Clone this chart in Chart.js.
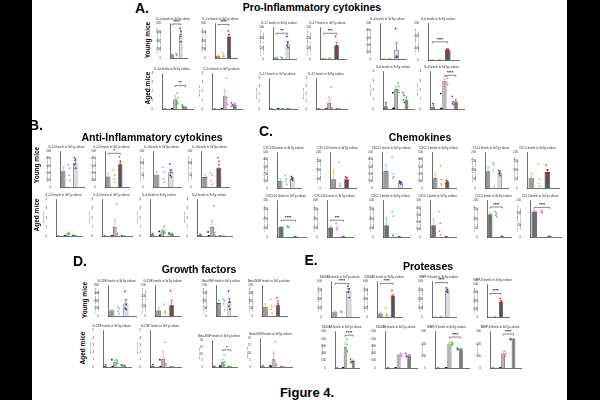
<!DOCTYPE html>
<html>
<head>
<meta charset="utf-8">
<script src="https://cdn.jsdelivr.net/npm/chart.js@4.4.1/dist/chart.umd.min.js"></script>
<style>
  body { margin: 0; width: 600px; height: 400px; background: #fff; position: relative; overflow: hidden;
         font-family: "Liberation Sans", Arial, sans-serif; }
  canvas.c { position: absolute; }
  .lbl { position: absolute; font-weight: bold; color: #000; white-space: nowrap; transform: translate(-50%, -50%); line-height: 1; }
  .rot { transform: translate(-50%, -50%) rotate(-90deg); }
  .side { position: absolute; top: 0; height: 400px; background: #000; z-index: 5; }
</style>
</head>
<body>
<div class="side" style="left:0;width:32px"></div>
<div class="side" style="left:567px;width:33px"></div>
<script>
// ===== data =====
const catsYoungMale = ['WT male', '3xTg male'];
const catsYoungFemale = ['WT female', '3xTg female'];
const catsAgedMale = ['Control', 'WT male', '3xTg male'];
const catsAgedFemale = ['Control', 'WT female', '3xTg female'];
const yLabelYoung = ['% cytokine levels relative', 'to WT control (pg/mL)'];
const yLabelAged = 'MFI values';

// A. Pro-inflammatory cytokines (young row, then aged row)
const titlesA = ['IL-1α levels in 3xTg culture', 'IL-1α levels in 3xTg culture', 'IL-17 levels in 3xTg culture',
  'IL-17 levels in 3xTg culture', 'IL-6 levels in 3xTg culture', 'IL-6 levels in 3xTg culture',
  'IL-1α levels in 3xTg culture', 'IL-1α levels in 3xTg culture', 'IL-17 levels in 3xTg culture',
  'IL-17 levels in 3xTg culture', 'IL-6 levels in 3xTg culture', 'IL-6 levels in 3xTg culture'];
const kindsA = ['ym', 'yf', 'ym', 'yf', 'ym', 'yf', 'am', 'af', 'am', 'af', 'am', 'af'];
const meansA = [[80, 550], [55, 500], [70, 690], [40, 660], [100, 6500], [20, 850],
  [0.02, 1.1, 0.2], [0.02, 1.5, 0.5], [0.02, 0.03, 0.02], [0.02, 0.8, 0.02], [0.3, 2.1, 1.0], [0.25, 3.0, 0.8]];
const errsA = [[20, 60], [20, 50], [20, 150], [10, 130], [50, 5000], [10, 60],
  [0.01, 0.4, 0.05], [0.01, 0.65, 0.15], [0.01, 0.01, 0.01], [0.01, 0.8, 0.01], [0.4, 0.3, 0.3], [0.35, 0.2, 0.25]];
const pointsA = [
  [[110, 60, 70, 90], [690, 630, 500, 380]],
  [[120, 70, 40, 30], [630, 545, 460, 420]],
  [[90, 50, 80, 60], [1080, 780, 640, 540]],
  [[50, 30, 40], [1080, 640, 520, 400]],
  [[150, 80, 100], [21500, 2000, 1200, 1500]],
  [[30, 15, 20], [900, 850, 800, 860]],
  [[0.03, 0.01, 0.02], [1.8, 1.3, 0.8, 0.6], [0.45, 0.3, 0.15, 0.1]],
  [[0.03, 0.01], [3.5, 1.3, 0.7, 0.5], [0.7, 0.5, 0.3]],
  [[0.02, 0.01], [0.05, 0.02, 0.03], [0.02, 0.03, 0.01]],
  [[0.02, 0.01], [2.9, 0.2, 0.1, 0.1], [0.02, 0.01]],
  [[1.75, 0.1, 0.05, 0.05, 0.02], [2.8, 2.4, 2.0, 1.75], [1.75, 1.45, 1.0, 0.7]],
  [[1.65, 0.05, 0.05, 0.02, 0.02], [3.5, 3.3, 2.8, 2.6], [1.35, 0.8, 0.6, 0.5]]
];
const ymaxA = [800, 800, 1500, 1500, 25000, 3000, 4, 4, 4, 4, 4, 4];
const stepA = [200, 200, 500, 500, 5000, 500, 1, 1, 1, 1, 1, 1];
const sigA = [[0, 1, '****', 790], [0, 1, '****', 780], [0, 1, '**', 1230], [0, 1, '***', 1230], null,
  [0, 1, '****', 1500], [1, 2, '**', 2.65], null, null, null, null, [1, 2, '****', 3.6]];

// B. Anti-inflammatory cytokines
const titlesB = ['IL-10 levels in 3xTg culture', 'IL-10 levels in 3xTg culture', 'IL-4 levels in 3xTg culture',
  'IL-4 levels in 3xTg culture', 'IL-10 levels in 3xTg culture', 'IL-10 levels in 3xTg culture',
  'IL-4 levels in 3xTg culture', 'IL-4 levels in 3xTg culture'];
const kindsB = ['ym', 'yf', 'ym', 'yf', 'am', 'af', 'am', 'af'];
const meansB = [[1120, 1700], [750, 1600], [52, 62], [42, 82],
  [0.02, 0.25, 0.05], [0.02, 1.0, 0.01], [0.2, 0.6, 0.25], [0.12, 1.0, 0.01]];
const errsB = [[300, 180], [200, 150], [14, 10], [10, 15],
  [0.01, 0.05, 0.02], [0.01, 0.8, 0.01], [0.1, 0.15, 0.05], [0.1, 0.75, 0.01]];
const pointsB = [
  [[1580, 1330, 830, 450], [2080, 1950, 1580, 1330]],
  [[1200, 830, 580, 330], [2120, 1830, 1450, 1200]],
  [[83, 64, 35, 20], [98, 72, 50, 42]],
  [[60, 50, 27, 12], [125, 110, 72, 42]],
  [[0.01, 0.02], [0.4, 0.3, 0.25, 0.2], [0.06, 0.04, 0.05]],
  [[0.02, 0.01], [3.5, 0.3, 0.2, 0.1], [0.01, 0.02]],
  [[0.5, 0.1, 0.05], [1.05, 0.6, 0.4, 0.3], [0.35, 0.3, 0.2]],
  [[0.45, 0.02, 0.02], [3.3, 0.4, 0.2, 0.1], [0.01, 0.02]]
];
const ymaxB = [2500, 2500, 150, 150, 4, 4, 4, 4];
const stepB = [500, 500, 50, 50, 1, 1, 1, 1];
const sigB = [null, [0, 1, '*', 2380], null, null, null, null, null, null];

// C. Chemokines
const titlesC = ['CXCL10 levels in 3xTg culture', 'CXCL10 levels in 3xTg culture', 'CXCL1 levels in 3xTg culture',
  'CXCL1 levels in 3xTg culture', 'CCL2 levels in 3xTg culture', 'CCL2 levels in 3xTg culture',
  'CXCL10 levels in 3xTg culture', 'CXCL10 levels in 3xTg culture', 'CXCL1 levels in 3xTg culture',
  'CXCL1 levels in 3xTg culture', 'CCL2 levels in 3xTg culture', 'CCL2 levels in 3xTg culture'];
const kindsC = ['ym', 'yf', 'ym', 'yf', 'ym', 'yf', 'am2', 'af2', 'am2', 'af2', 'am2', 'af2'];
const meansC = [[100, 135], [100, 100], [1180, 380], [680, 430], [95, 85], [55, 90],
  [110, 2], [105, 2], [650, 10], [810, 20], [125, 3], [105, 2]];
const errsC = [[30, 15], [95, 20], [450, 70], [330, 60], [25, 10], [30, 15],
  [5, 1], [15, 1], [400, 5], [400, 5], [8, 1], [5, 1]];
const pointsC = [
  [[175, 125, 85, 50], [165, 140, 125, 110]],
  [[290, 50, 30, 20], [125, 115, 90, 60]],
  [[2180, 1000, 700, 800], [480, 420, 350, 280]],
  [[1580, 600, 300, 200], [550, 480, 400, 300]],
  [[140, 130, 100, 10], [100, 90, 80, 70]],
  [[135, 50, 25, 10], [130, 100, 80, 60]],
  [[120, 115, 110, 105], [2, 1, 3]],
  [[150, 110, 90, 80], [2, 1, 2]],
  [[1400, 1150, 100, 50], [10, 5, 15]],
  [[1750, 950, 400, 150], [20, 10, 30]],
  [[140, 130, 120, 110], [3, 2, 4]],
  [[110, 108, 100, 102], [2, 1, 3]]
];
const ymaxC = [500, 400, 2500, 2500, 200, 200, 400, 400, 2000, 2500, 200, 150];
const stepC = [100, 100, 500, 500, 50, 50, 100, 100, 500, 500, 50, 50];
const sigC = [null, null, null, null, null, null, [0, 1, '****', 185], [0, 1, '***', 185], null, null,
  [0, 1, '****', 165], [0, 1, '****', 122]];

// D. Growth factors
const titlesD = ['G-CSF levels in 3xTg culture', 'G-CSF levels in 3xTg culture', 'Beta-NGF levels in 3xTg culture',
  'Beta-NGF levels in 3xTg culture', 'G-CSF levels in 3xTg culture', 'G-CSF levels in 3xTg culture',
  'Beta-NGF levels in 3xTg culture', 'Beta-NGF levels in 3xTg culture'];
const kindsD = ['ym', 'yf', 'ym', 'yf', 'am', 'af', 'am', 'af'];
const meansD = [[145, 330], [110, 210], [85, 90], [60, 70],
  [0.15, 0.7, 0.25], [0.15, 1.1, 0.02], [0.5, 4, 0.2], [0.6, 5.5, 0.1]];
const errsD = [[30, 100], [50, 100], [20, 25], [20, 30],
  [0.2, 0.2, 0.05], [0.2, 1.0, 0.01], [0.2, 2, 0.1], [0.3, 5, 0.05]];
const pointsD = [
  [[250, 200, 120, 60], [650, 300, 200, 170]],
  [[230, 100, 70, 40], [500, 150, 100, 80]],
  [[110, 100, 80, 40], [165, 95, 65, 45]],
  [[110, 65, 45, 20], [120, 80, 50, 30]],
  [[1.0, 0.05, 0.02], [1.0, 0.8, 0.5, 0.5], [0.3, 0.25, 0.2]],
  [[1.0, 0.05, 0.02], [3.4, 0.5, 0.3, 0.2], [0.02, 0.01]],
  [[0.8, 0.3, 0.4], [9, 4, 2, 1], [0.3, 0.2, 0.1]],
  [[0.9, 0.4, 0.5], [18, 2, 1, 1], [0.1, 0.1]]
];
const ymaxD = [800, 600, 200, 200, 5, 5, 20, 20];
const stepD = [200, 200, 50, 50, 1, 1, 5, 5];
const sigD = [null, null, null, null, null, null, [1, 2, '*', 13], null];

// E. Proteases
const titlesE = ['S100A8 levels in 3xTg culture', 'S100A8 levels in 3xTg culture', 'MMP-9 levels in 3xTg culture',
  'MMP-9 levels in 3xTg culture', 'S100A8 levels in 3xTg culture', 'S100A8 levels in 3xTg culture',
  'MMP-9 levels in 3xTg culture', 'MMP-9 levels in 3xTg culture'];
const kindsE = ['ym', 'yf', 'ym', 'yf', 'am', 'af', 'am', 'af'];
const meansE = [[1500, 7300], [1000, 6100], [300, 30000], [200, 19000],
  [50, 5800, 1900], [60, 3500, 3400], [300, 40000, 31000], [300, 24000, 47500]];
const errsE = [[200, 700], [400, 300], [50, 1500], [50, 1500],
  [20, 1200, 300], [20, 300, 300], [100, 1500, 1200], [100, 3000, 1000]];
const pointsE = [
  [[1700, 1500, 1300], [8700, 8000, 7000, 5500]],
  [[2500, 800, 400, 300], [7500, 5800, 5600, 5500]],
  [[350, 300, 250], [33000, 31000, 29000, 28000]],
  [[250, 200, 150], [23000, 20000, 17000, 18000]],
  [[60, 40, 50], [8000, 6500, 4800, 4500], [2400, 1800, 1500]],
  [[70, 50], [4000, 3700, 3400, 3300], [4000, 3400, 3100]],
  [[350, 250], [42500, 41000, 39000, 38000], [33000, 31000, 30000]],
  [[350, 250], [28000, 24000, 20000], [48500, 47500, 46500]]
];
const ymaxE = [10000, 10000, 40000, 40000, 10000, 10000, 60000, 60000];
const stepE = [2500, 2500, 10000, 10000, 2000, 2000, 20000, 20000];
const sigE = [[0, 1, '****', 9500], [0, 1, '****', 9500], [0, 1, '****', 39000], [0, 1, '****', 29000],
  [1, 2, '****', 9000], null, [1, 2, '****', 51000], [1, 2, '****', 56000]];

// ===== layout: canvas boxes [left, top, width, height] =====
const boxesA = [[156, 16, 35, 48], [201, 16, 40, 48], [259, 20, 41, 45], [306, 20, 44, 45], [366, 16, 44, 49], [414, 16, 49, 50],
  [148, 66, 49, 49], [198, 66, 48, 49], [255, 71, 46, 44], [302, 71, 49, 44], [369, 64, 49, 51], [416, 64, 52, 51]];
const boxesB = [[46, 144, 42, 49], [91, 144, 42, 49], [139, 144, 46, 49], [187, 144, 46, 49],
  [42, 192, 44, 50], [88, 192, 48, 50], [136, 192, 47, 50], [183, 192, 53, 50]];
const boxesC = [[263, 145, 42, 49], [316, 145, 44, 49], [368, 145, 47, 49], [418, 145, 42, 49], [471, 145, 41, 49], [513, 145, 50, 49],
  [263, 193, 47, 50], [313, 193, 44, 50], [369, 193, 44, 50], [416, 193, 44, 50], [473, 193, 42, 50], [516, 193, 49, 50]];
const boxesD = [[94, 278, 46, 44], [141, 278, 44, 44], [202, 278, 39, 44], [248, 278, 43, 44],
  [89, 323, 46, 50], [136, 323, 49, 50], [198, 333, 43, 40], [246, 331, 50, 42]];
const boxesE = [[317, 274, 46, 49], [363, 274, 43, 49], [418, 274, 42, 49], [473, 277, 40, 46],
  [321, 324, 42, 50], [371, 324, 50, 50], [421, 324, 52, 50], [476, 324, 49, 50]];

// ===== styles =====
const FONT = '"Liberation Sans", Arial, sans-serif';
Chart.defaults.font.family = FONT;
const JITTER = [-0.1, 0.08, -0.03, 0.11, -0.12, 0.04];
const KINDS = {
  ym: { cats: catsYoungMale, ylab: yLabelYoung, bars: ['#9b9b9b', '#dcdcdc'], pts: ['#6aaef0', '#2a35c8'] },
  yf: { cats: catsYoungFemale, ylab: yLabelYoung, bars: ['#9b9b9b', '#555555'], pts: ['#f39a3c', '#e31b1b'] },
  am: { cats: catsAgedMale, ylab: yLabelAged, bars: ['#7a7a7a', '#b4b4b4', '#7d7d7d'], pts: ['#111111', '#3fd13f', '#1b8f1b'] },
  af: { cats: catsAgedFemale, ylab: yLabelAged, bars: ['#7a7a7a', '#b4b4b4', '#7d7d7d'], pts: ['#111111', '#f36ad6', '#8b2bd9'] },
  am2: { cats: catsYoungMale, ylab: yLabelYoung, bars: ['#6e6e6e', '#d2d2d2'], pts: ['#3fd13f', '#1b8f1b'] },
  af2: { cats: catsYoungFemale, ylab: yLabelYoung, bars: ['#6e6e6e', '#d2d2d2'], pts: ['#f36ad6', '#8b2bd9'] }
};

// one small bar + dot plot
function makeChart(box, title, kind, mean, err, pts, ymax, step, sig) {
  const st = KINDS[kind];
  const cv = document.createElement('canvas');
  cv.className = 'c';
  cv.width = box[2];
  cv.height = box[3];
  cv.style.left = box[0] + 'px';
  cv.style.top = box[1] + 'px';
  cv.style.width = box[2] + 'px';
  cv.style.height = box[3] + 'px';
  document.body.appendChild(cv);

  const datasets = [{
    type: 'bar',
    data: mean,
    backgroundColor: st.bars,
    borderColor: '#111',
    borderWidth: 0.6,
    barPercentage: 0.78,
    categoryPercentage: 0.9,
    order: 2
  }];
  st.cats.forEach((c, i) => {
    datasets.push({
      type: 'scatter',
      xAxisID: 'xj',
      data: pts[i].map((v, k) => ({ x: i + JITTER[k % JITTER.length], y: v })),
      pointRadius: 0.85,
      pointBackgroundColor: st.pts[i],
      pointBorderWidth: 0,
      order: 0
    });
  });

  // error bars right after the bars, bracket at the end
  const marks = {
    id: 'marks',
    afterDatasetDraw(chart, args) {
      if (args.index !== 0) return;
      const { ctx } = chart;
      const y = chart.scales.y;
      args.meta.data.forEach((bar, i) => {
        const top = y.getPixelForValue(mean[i] + err[i]);
        const half = bar.width * 0.3;
        ctx.save();
        ctx.strokeStyle = st.pts[i];
        ctx.lineWidth = 0.6;
        ctx.beginPath();
        ctx.moveTo(bar.x, bar.y);
        ctx.lineTo(bar.x, top);
        ctx.moveTo(bar.x - half, top);
        ctx.lineTo(bar.x + half, top);
        ctx.stroke();
        ctx.restore();
      });
    },
    afterDraw(chart) {
      if (!sig) return;
      const { ctx } = chart;
      const bars = chart.getDatasetMeta(0).data;
      const x1 = bars[sig[0]].x, x2 = bars[sig[1]].x;
      const yy = chart.scales.y.getPixelForValue(sig[3]);
      ctx.save();
      ctx.strokeStyle = '#111';
      ctx.lineWidth = 0.5;
      ctx.beginPath();
      ctx.moveTo(x1, yy + 1.5);
      ctx.lineTo(x1, yy);
      ctx.lineTo(x2, yy);
      ctx.lineTo(x2, yy + 1.5);
      ctx.stroke();
      ctx.fillStyle = '#111';
      ctx.font = 'bold 4px ' + FONT;
      ctx.textAlign = 'center';
      ctx.textBaseline = 'bottom';
      ctx.fillText(sig[2], (x1 + x2) / 2, yy - 0.3);
      ctx.restore();
    }
  };

  return new Chart(cv, {
    type: 'bar',
    data: { labels: st.cats, datasets },
    options: {
      responsive: false,
      animation: false,
      events: [],
      layout: { padding: { left: 0, right: 1, top: 0, bottom: 0 } },
      plugins: {
        legend: { display: false },
        tooltip: { enabled: false },
        title: { display: true, text: title, color: '#222', font: { size: 3, weight: 'normal' }, padding: { top: 1.5, bottom: 2.5 } }
      },
      scales: {
        x: {
          grid: { display: false },
          border: { color: '#111', width: 0.6 },
          ticks: { color: '#333', font: { size: 2.5 }, maxRotation: 0, autoSkip: false, padding: 1 },
          afterFit(s) { s.height = 6; }
        },
        xj: { type: 'linear', display: false, position: 'bottom', min: -0.5, max: st.cats.length - 0.5 },
        y: {
          min: 0,
          max: ymax,
          grid: { display: false },
          border: { color: '#111', width: 0.6 },
          ticks: { stepSize: step, color: '#333', font: { size: 2.8 }, padding: 1 },
          title: { display: true, text: st.ylab, color: '#333', font: { size: 2.3 }, padding: 0 },
          afterFit(s) { s.width = 14; }
        }
      }
    },
    plugins: [marks]
  });
}

function drawPanel(boxes, titles, kinds, means, errs, points, ymax, step, sig) {
  boxes.forEach((b, i) => makeChart(b, titles[i], kinds[i], means[i], errs[i], points[i], ymax[i], step[i], sig[i]));
}

function label(text, x, y, size, rotate) {
  const d = document.createElement('div');
  d.className = 'lbl' + (rotate ? ' rot' : '');
  d.textContent = text;
  d.style.left = x + 'px';
  d.style.top = y + 'px';
  d.style.fontSize = size + 'px';
  document.body.appendChild(d);
}

drawPanel(boxesA, titlesA, kindsA, meansA, errsA, pointsA, ymaxA, stepA, sigA);
drawPanel(boxesB, titlesB, kindsB, meansB, errsB, pointsB, ymaxB, stepB, sigB);
drawPanel(boxesC, titlesC, kindsC, meansC, errsC, pointsC, ymaxC, stepC, sigC);
drawPanel(boxesD, titlesD, kindsD, meansD, errsD, pointsD, ymaxD, stepD, sigD);
drawPanel(boxesE, titlesE, kindsE, meansE, errsE, pointsE, ymaxE, stepE, sigE);

// panel letters, headings, row labels
label('A.', 142, 8, 14);
label('Pro-Inflammatory cytokines', 312, 7, 10.5);
label('Young mice', 148, 40, 6.5, true);
label('Aged mice', 148, 88, 6.5, true);
label('B.', 36, 125, 14);
label('Anti-Inflammatory cytokines', 152, 137, 10.5);
label('Young mice', 37, 165, 6.5, true);
label('Aged mice', 37, 215, 6.5, true);
label('C.', 266, 131, 14);
label('Chemokines', 420, 137, 10.5);
label('D.', 80, 261, 14);
label('Growth factors', 199, 269, 10.5);
label('Young mice', 85, 300, 6.5, true);
label('Aged mice', 83, 348, 6.5, true);
label('E.', 311, 260, 14);
label('Proteases', 428, 266, 10.5);
label('Figure 4.', 307, 392, 13);
</script>
</body>
</html>
